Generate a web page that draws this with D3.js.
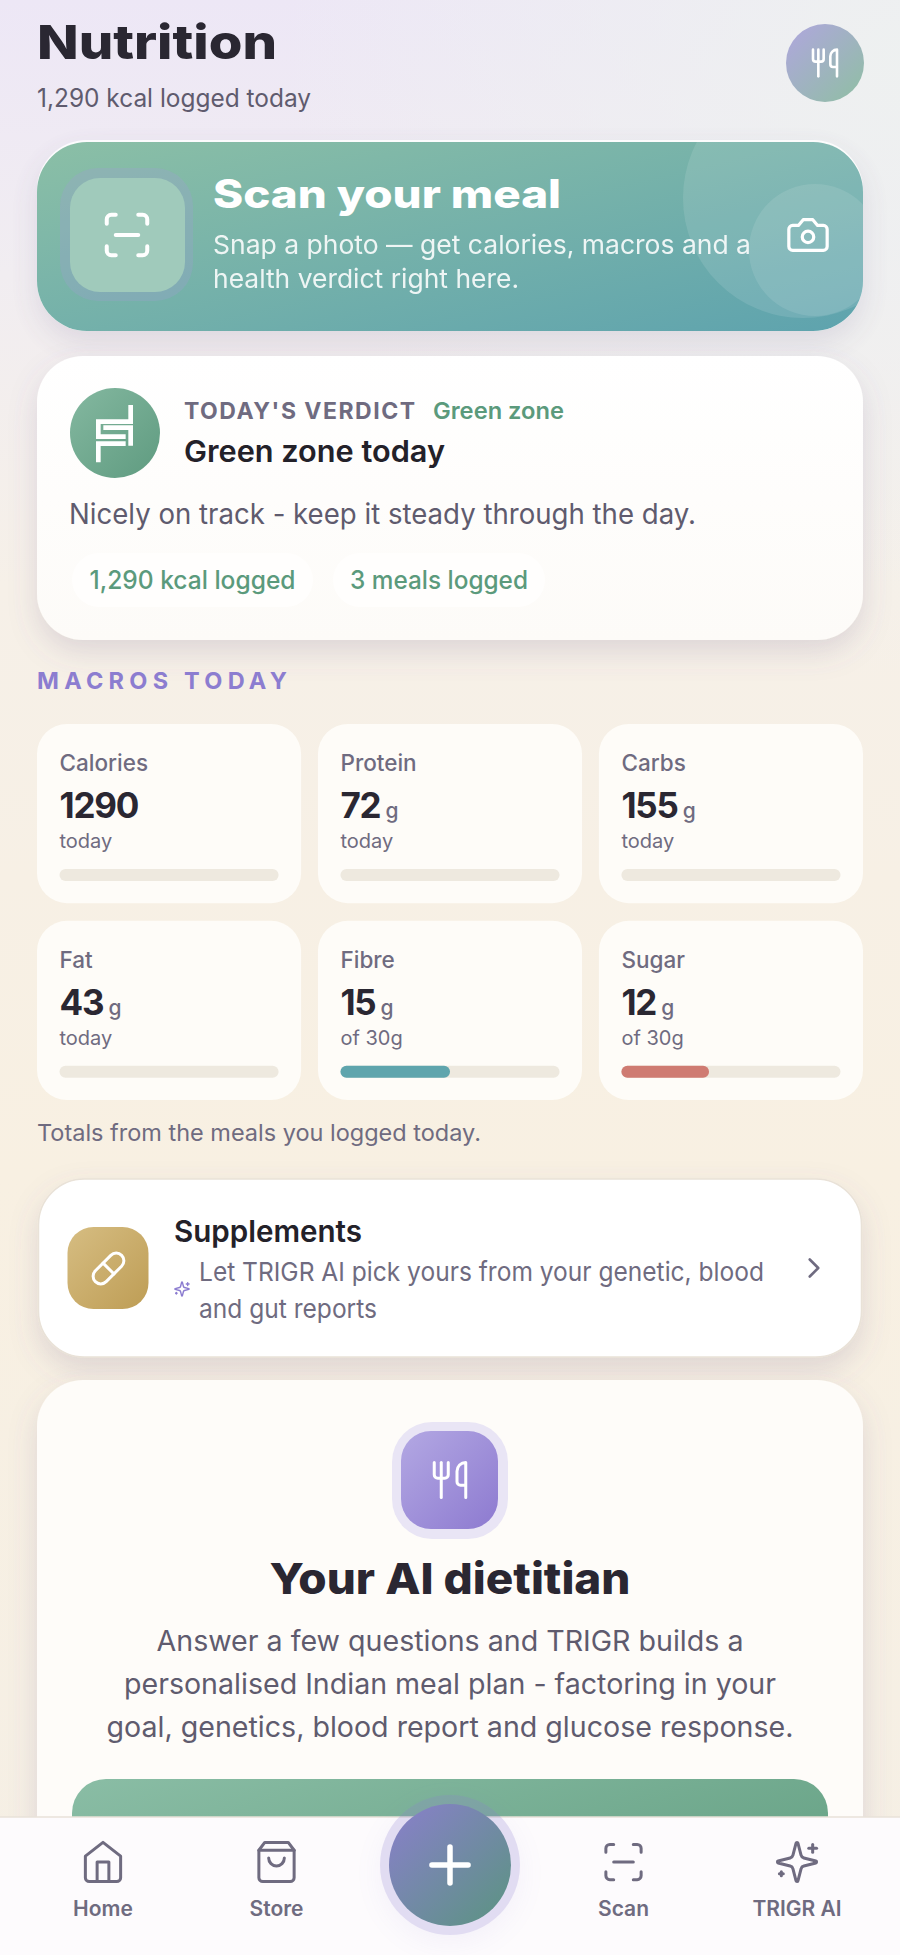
<!DOCTYPE html>
<html>
<head>
<meta charset="utf-8">
<title>Nutrition</title>
<script src="https://cdn.jsdelivr.net/npm/d3@7/dist/d3.min.js"></script>
<style>
  html, body { margin: 0; padding: 0; background: #f7f0e4; }
  svg { display: block; }
  text { font-family: Inter, "Noto Sans", sans-serif; }
</style>
</head>
<body>
<div id="vis_container"></div>
<script>
// values
var macroLabels = ["Calories", "Protein", "Carbs", "Fat", "Fibre", "Sugar"];
var macroValues = [1290, 72, 155, 43, 15, 12];
var macroUnits = ["", "g", "g", "g", "g", "g"];
var macroTargets = [null, null, null, null, 30, 30];
var macroColors = ["#5fa5ad", "#5fa5ad", "#5fa5ad", "#5fa5ad", "#5fa5ad", "#cf7b72"];

var navLabels = ["Home", "Store", "Add", "Scan", "TRIGR AI"];

var pillLabels = ["1,290 kcal logged", "3 meals logged"];
var dietitianLines = [
    "Answer a few questions and TRIGR builds a",
    "personalised Indian meal plan - factoring in your",
    "goal, genetics, blood report and glucose response."
];

var width = 900;
var height = 1955;

var ink = "#2a2732";
var muted = "#6f6b80";
var body = "#5f5b6e";
var green = "#5b9a7c";

// lucide style icon paths, drawn on a 24 box
var icons = {
    utensils: ["M3 2v7c0 1.1.9 2 2 2h4a2 2 0 0 0 2-2V2", "M7 2v20", "M21 15V2a5 5 0 0 0-5 5v6c0 1.1.9 2 2 2h3Zm0 0v7"],
    camera: ["M14.5 4h-5L7 7H4a2 2 0 0 0-2 2v9a2 2 0 0 0 2 2h16a2 2 0 0 0 2-2V9a2 2 0 0 0-2-2h-3l-2.5-3z", "M15 13a3 3 0 1 1-6 0a3 3 0 1 1 6 0"],
    home: ["M3 9 12 2l9 7v11a2 2 0 0 1-2 2H5a2 2 0 0 1-2-2z", "M9 22V12h6v10"],
    bag: ["M6 2 3 6v14a2 2 0 0 0 2 2h14a2 2 0 0 0 2-2V6l-3-4Z", "M3 6h18", "M16 10a4 4 0 0 1-8 0"],
    scan: ["M3 7V5a2 2 0 0 1 2-2h2", "M17 3h2a2 2 0 0 1 2 2v2", "M21 17v2a2 2 0 0 1-2 2h-2", "M7 21H5a2 2 0 0 1-2-2v-2", "M7 12h10"],
    sparkles: ["M9.937 15.5A2 2 0 0 0 8.5 14.063l-6.135-1.582a.5.5 0 0 1 0-.962L8.5 9.936A2 2 0 0 0 9.937 8.5l1.582-6.135a.5.5 0 0 1 .963 0L14.063 8.5A2 2 0 0 0 15.5 9.937l6.135 1.581a.5.5 0 0 1 0 .964L15.5 14.063a2 2 0 0 0-1.437 1.437l-1.582 6.135a.5.5 0 0 1-.963 0z", "M20 3v4", "M22 5h-4", "M4 17v2", "M5 18H3"],
    pill: ["m10.5 20.5 10-10a4.95 4.95 0 1 0-7-7l-10 10a4.95 4.95 0 1 0 7 7Z", "m8.5 8.5 7 7"],
    chevron: ["m9 18 6-6-6-6"],
    plus: ["M5 12h14", "M12 5v14"]
};

var svg = d3.select("#vis_container").append("svg")
    .attr("width", width)
    .attr("height", height);

var defs = svg.append("defs");

function diagonal(id, from, to) {
    var g = defs.append("linearGradient").attr("id", id)
        .attr("x1", "0%").attr("y1", "0%").attr("x2", "100%").attr("y2", "100%");
    g.append("stop").attr("offset", "0%").attr("stop-color", from);
    g.append("stop").attr("offset", "100%").attr("stop-color", to);
}
diagonal("avatarFill", "#b0a6de", "#8fbfa3");
diagonal("scanFill", "#8bbfa6", "#5ea3ae");
diagonal("verdictFill", "#84b8a0", "#5f9b80");
diagonal("goldFill", "#d6bd82", "#be9d55");
diagonal("purpleFill", "#b3a8e3", "#8d7ad0");
diagonal("fabFill", "#8a7fcc", "#5a9480");

var whiteDown = defs.append("linearGradient").attr("id", "whiteDown")
    .attr("x1", "0%").attr("y1", "0%").attr("x2", "0%").attr("y2", "100%");
whiteDown.append("stop").attr("offset", "0%").attr("stop-color", "#ffffff");
whiteDown.append("stop").attr("offset", "100%").attr("stop-color", "#fdfbf8");

var cta = defs.append("linearGradient").attr("id", "ctaFill")
    .attr("x1", "0%").attr("y1", "0%").attr("x2", "100%").attr("y2", "40%");
cta.append("stop").attr("offset", "0%").attr("stop-color", "#8abda5");
cta.append("stop").attr("offset", "100%").attr("stop-color", "#6ca68a");

var pageV = defs.append("linearGradient").attr("id", "pageV")
    .attr("x1", "0%").attr("y1", "0%").attr("x2", "0%").attr("y2", "100%");
[["0%", "#ede7f6"], ["14%", "#f1edf1"], ["30%", "#f6f0e8"], ["60%", "#f8f0e2"], ["100%", "#f5efe5"]].forEach(function(d) {
    pageV.append("stop").attr("offset", d[0]).attr("stop-color", d[1]);
});

var pageCorner = defs.append("radialGradient").attr("id", "pageCorner")
    .attr("gradientUnits", "userSpaceOnUse")
    .attr("cx", 900).attr("cy", 60).attr("r", 620);
pageCorner.append("stop").attr("offset", "0%").attr("stop-color", "#eef1f0").attr("stop-opacity", 0.95);
pageCorner.append("stop").attr("offset", "100%").attr("stop-color", "#eef1f0").attr("stop-opacity", 0);

var softShadow = defs.append("filter").attr("id", "softShadow")
    .attr("x", "-10%").attr("y", "-20%").attr("width", "120%").attr("height", "150%");
softShadow.append("feDropShadow").attr("dx", 0).attr("dy", 12).attr("stdDeviation", 14)
    .attr("flood-color", "#6c5f8a").attr("flood-opacity", 0.18);

var fabShadow = defs.append("filter").attr("id", "fabShadow")
    .attr("x", "-50%").attr("y", "-50%").attr("width", "200%").attr("height", "200%");
fabShadow.append("feDropShadow").attr("dx", 0).attr("dy", 8).attr("stdDeviation", 14)
    .attr("flood-color", "#8c7dd0").attr("flood-opacity", 0.35);

defs.append("clipPath").attr("id", "scanClip").append("rect")
    .attr("x", 37).attr("y", 142).attr("width", 826).attr("height", 189).attr("rx", 50);
defs.append("clipPath").attr("id", "pageClip").append("rect")
    .attr("x", 0).attr("y", 0).attr("width", width).attr("height", 1817);

function label(parent, x, y, str, size, weight, fill, fit, anchor) {
    var t = parent.append("text")
        .attr("x", x)
        .attr("y", y)
        .attr("font-size", size)
        .attr("font-weight", weight)
        .attr("fill", fill)
        .attr("text-anchor", anchor || "start")
        .text(str);
    if (fit) {
        t.attr("textLength", fit).attr("lengthAdjust", "spacingAndGlyphs");
    }
    return t;
}

function icon(parent, name, cx, cy, size, color, stroke) {
    var k = size / 24;
    var g = parent.append("g")
        .attr("transform", "translate(" + (cx - size / 2) + "," + (cy - size / 2) + ") scale(" + k + ")")
        .attr("fill", "none")
        .attr("stroke", color)
        .attr("stroke-width", stroke / k)
        .attr("stroke-linecap", "round")
        .attr("stroke-linejoin", "round");
    g.selectAll("path").data(icons[name]).enter().append("path").attr("d", function(d) { return d; });
    return g;
}

function box(parent, x, y, w, h, r, fill) {
    return parent.append("rect")
        .attr("x", x).attr("y", y).attr("width", w).attr("height", h).attr("rx", r).attr("fill", fill);
}

// page background
svg.append("rect").attr("width", width).attr("height", height).attr("fill", "url(#pageV)");
svg.append("rect").attr("width", width).attr("height", 700).attr("fill", "url(#pageCorner)");

var page = svg.append("g").attr("clip-path", "url(#pageClip)");

// header
label(page, 37, 59, "Nutrition", 47, 800, ink, 240);
label(page, 37, 107, "1,290 kcal logged today", 25, 400, body, 274);
page.append("circle").attr("cx", 825).attr("cy", 63).attr("r", 39).attr("fill", "url(#avatarFill)");
icon(page, "utensils", 825, 63, 32, "#ffffff", 2.6);

// scan card
box(page, 37, 140, 826, 191, 50, "#ffffff").attr("opacity", 0.85).attr("filter", "url(#softShadow)");
box(page, 37, 142, 826, 189, 50, "url(#scanFill)");
var scanDeco = page.append("g").attr("clip-path", "url(#scanClip)");
scanDeco.append("circle").attr("cx", 803).attr("cy", 198).attr("r", 120).attr("fill", "#ffffff").attr("opacity", 0.11);
scanDeco.append("circle").attr("cx", 815).attr("cy", 250).attr("r", 66).attr("fill", "#ffffff").attr("opacity", 0.1);
box(page, 60, 168, 133, 133, 38, "#9aa3cc").attr("opacity", 0.32);
box(page, 70, 178, 115, 114, 30, "#a0cabb");
icon(page, "scan", 127, 235, 54, "#ffffff", 4);
label(page, 213, 208, "Scan your meal", 39, 800, "#ffffff", 348);
label(page, 213, 254, "Snap a photo \u2014 get calories, macros and a", 26, 400, "#ffffff", 538).attr("opacity", 0.88);
label(page, 213, 288, "health verdict right here.", 26, 400, "#ffffff", 306).attr("opacity", 0.88);
icon(page, "camera", 808, 235, 46, "#ffffff", 3.2);

// verdict card
box(page, 37, 356, 826, 284, 46, "url(#whiteDown)").attr("filter", "url(#softShadow)");
page.append("circle").attr("cx", 115).attr("cy", 433).attr("r", 45).attr("fill", "url(#verdictFill)");
page.append("g")
    .attr("transform", "translate(65,385) scale(0.3333)")
    .attr("fill", "none").attr("stroke", "#ffffff").attr("stroke-width", 14)
    .selectAll("path")
    .data(["M197 60V110H100V155H182", "M115 128H197V182", "M182 176H100V232"])
    .enter().append("path").attr("d", function(d) { return d; });
label(page, 184, 419, "TODAY'S VERDICT", 23, 700, muted, 231).attr("lengthAdjust", "spacing");
label(page, 433, 419, "Green zone", 23, 600, green, 131);
label(page, 184, 462, "Green zone today", 30, 600, "#232129", 261);
label(page, 69, 524, "Nicely on track - keep it steady through the day.", 28, 400, body, 627);

var pillX = [72, 333];
var pillW = [241, 212];
var pillText = [206, 178];
pillLabels.forEach(function(d, i) {
    box(page, pillX[i], 553, pillW[i], 54, 27, "#fffefd");
    label(page, pillX[i] + (pillW[i] - pillText[i]) / 2, 589, d, 25.5, 500, green, pillText[i]);
});

// macros
label(page, 37, 689, "MACROS TODAY", 23.5, 700, "#8c7dd0", 250).attr("lengthAdjust", "spacing");

var col = d3.scaleBand().domain(d3.range(3)).range([37, 863]).paddingInner(0.06);
var row = d3.scaleBand().domain(d3.range(2)).range([724, 1100]).paddingInner(0.09);
var share = d3.scaleLinear().domain([0, 1]).range([0, col.bandwidth() - 45]);

var cards = page.selectAll(".macro").data(macroLabels).enter().append("g")
    .attr("class", "macro")
    .attr("transform", function(d, i) { return "translate(" + col(i % 3) + "," + row(Math.floor(i / 3)) + ")"; });

cards.append("rect")
    .attr("width", col.bandwidth())
    .attr("height", row.bandwidth())
    .attr("rx", 30)
    .attr("fill", "#fefcf8");

cards.append("text")
    .attr("x", 22.5).attr("y", 47)
    .attr("font-size", 22.5).attr("font-weight", 500).attr("fill", muted)
    .text(function(d) { return d; });

var valueText = cards.append("text")
    .attr("x", 22.5).attr("y", 94)
    .attr("font-size", 35).attr("font-weight", 700).attr("fill", ink)
    .attr("letter-spacing", -1.2)
    .text(function(d, i) { return macroValues[i]; });

valueText.append("tspan")
    .attr("dx", 5)
    .attr("font-size", 21).attr("font-weight", 500).attr("fill", muted)
    .text(function(d, i) { return macroUnits[i]; });

cards.append("text")
    .attr("x", 22.5).attr("y", 124)
    .attr("font-size", 20).attr("font-weight", 400).attr("fill", muted)
    .text(function(d, i) { return macroTargets[i] ? "of " + macroTargets[i] + "g" : "today"; });

cards.append("rect")
    .attr("x", 22.5).attr("y", 145)
    .attr("width", share(1)).attr("height", 12).attr("rx", 6)
    .attr("fill", "#eee9df");

cards.filter(function(d, i) { return macroTargets[i]; }).append("rect")
    .attr("x", 22.5).attr("y", 145)
    .attr("width", function(d) {
        var i = macroLabels.indexOf(d);
        return share(macroValues[i] / macroTargets[i]);
    })
    .attr("height", 12).attr("rx", 6)
    .attr("fill", function(d) { return macroColors[macroLabels.indexOf(d)]; });

label(page, 37, 1141, "Totals from the meals you logged today.", 23, 400, muted, 444);

// supplements card
box(page, 38.5, 1179, 823, 178, 46, "#ffffff")
    .attr("stroke", "#e9e2d8").attr("stroke-width", 1.5)
    .attr("filter", "url(#softShadow)");
box(page, 67.5, 1227, 81, 82, 26, "url(#goldFill)");
icon(page, "pill", 108.5, 1268.5, 37, "#ffffff", 3);
label(page, 174, 1242, "Supplements", 30, 600, "#232129", 188);
label(page, 199, 1281, "Let TRIGR AI pick yours from your genetic, blood", 26, 400, muted, 565);
label(page, 199, 1318, "and gut reports", 26, 400, muted, 178);
icon(page, "sparkles", 182, 1289, 17, "#8c7dd0", 1.4);
icon(page, "chevron", 814, 1268, 34, muted, 2.6);

// dietitian card, runs on under the nav bar
box(page, 37, 1380, 826, 560, 46, "#fefcf9").attr("filter", "url(#softShadow)");
box(page, 392, 1422, 116, 117, 40, "#e9e5f5");
box(page, 401, 1431, 97, 98, 30, "url(#purpleFill)");
icon(page, "utensils", 450, 1480, 42, "#ffffff", 3);
label(page, 450, 1594, "Your AI dietitian", 43, 800, ink, 361, "middle");

var paraWidths = [587, 652, 687];
var paraY = d3.scalePoint().domain(d3.range(3)).range([1651, 1737]);
dietitianLines.forEach(function(d, i) {
    label(page, 450, paraY(i), d, 28, 400, body, paraWidths[i], "middle");
});
box(page, 72, 1779, 756, 100, 34, "url(#ctaFill)");

// nav bar
svg.append("rect").attr("y", 1817).attr("width", width).attr("height", 138).attr("fill", "#fdfbfd");
svg.append("line").attr("x1", 0).attr("x2", width).attr("y1", 1817).attr("y2", 1817)
    .attr("stroke", "#e9e2d9").attr("stroke-width", 1.5);

var nav = d3.scalePoint().domain(navLabels).range([103, 797]);
var navIcons = { Home: "home", Store: "bag", Scan: "scan", "TRIGR AI": "sparkles" };
navLabels.forEach(function(d) {
    if (d == "Add") return;
    icon(svg, navIcons[d], nav(d), 1862, 47, muted, 3);
    label(svg, nav(d), 1916, d, 21, 600, muted, null, "middle");
});

svg.append("circle").attr("cx", nav("Add")).attr("cy", 1865).attr("r", 70)
    .attr("fill", "#8c7dd0").attr("opacity", 0.24).attr("filter", "url(#fabShadow)");
svg.append("circle").attr("cx", nav("Add")).attr("cy", 1865).attr("r", 61).attr("fill", "url(#fabFill)");
icon(svg, "plus", nav("Add"), 1865, 62, "#ffffff", 5.5);
</script>
</body>
</html>
